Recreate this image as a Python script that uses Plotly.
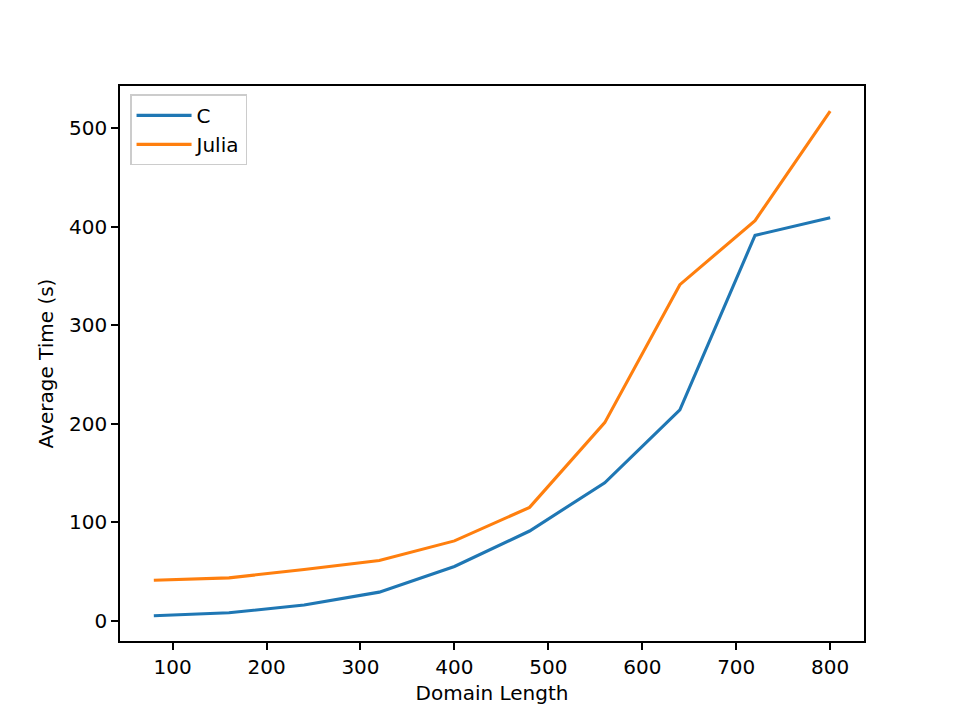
import plotly.graph_objects as go

domain_length = [80, 160, 240, 320, 400, 480, 560, 640, 720, 800]
c_times = [5, 8, 16, 29, 55, 91, 140, 214, 391, 409]
julia_times = [41, 43.5, 52, 61, 81, 115, 201, 341, 406, 517]
x_ticks = [100, 200, 300, 400, 500, 600, 700, 800]
y_ticks = [0, 100, 200, 300, 400, 500]

FONT = "DejaVu Sans"

def mpl_range(vals, margin=0.05):
    lo, hi = min(vals), max(vals)
    pad = (hi - lo) * margin
    return [lo - pad, hi + pad]

fig = go.Figure()
fig.add_trace(go.Scatter(x=domain_length, y=c_times, mode="lines", name="C",
                         line=dict(color="#1f77b4", width=3.1)))
fig.add_trace(go.Scatter(x=domain_length, y=julia_times, mode="lines", name="Julia",
                         line=dict(color="#ff7f0e", width=3.1)))

axis_common = dict(
    showline=True, linecolor="black", linewidth=1.7, mirror=True,
    ticks="outside", ticklen=7, tickwidth=1.7, tickcolor="black",
    showgrid=False, zeroline=False,
    tickfont=dict(family=FONT, size=20, color="black"),
)

fig.update_xaxes(range=mpl_range(domain_length), tickvals=x_ticks,
                 title=dict(text="Domain Length", font=dict(family=FONT, size=20, color="black"), standoff=8),
                 **axis_common)
fig.update_yaxes(range=mpl_range(c_times + julia_times), tickvals=y_ticks,
                 title=dict(text="Average Time (s)", font=dict(family=FONT, size=20, color="black"), standoff=10),
                 **axis_common)

fig.update_layout(
    width=960, height=720,
    margin=dict(l=120, r=96, t=86, b=79, pad=0),
    paper_bgcolor="white", plot_bgcolor="white",
    font=dict(family=FONT, size=20, color="black"),
    showlegend=True,
    legend=dict(x=0.0135, y=0.985, xanchor="left", yanchor="top",
                bgcolor="rgba(255,255,255,0.8)", bordercolor="#cccccc", borderwidth=1.5,
                font=dict(family=FONT, size=20, color="black"),
                tracegroupgap=0, itemwidth=55),
)

fig.write_html("out.html")
